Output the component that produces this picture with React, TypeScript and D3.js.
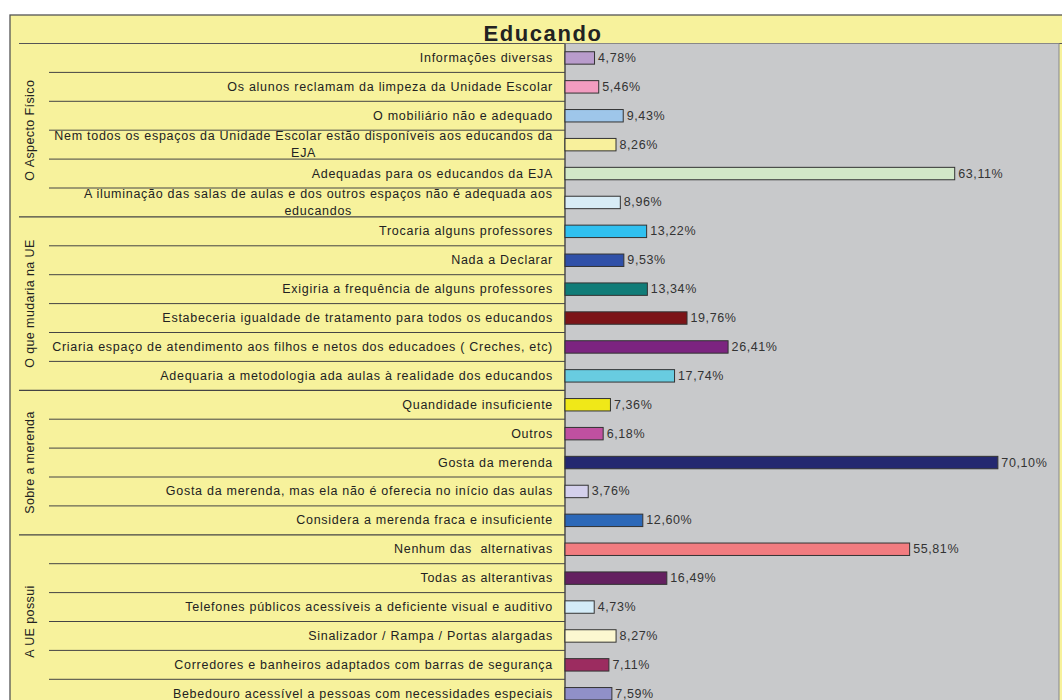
import React from "react";
import * as d3 from "d3";

const categories: string[] = [
  "Informações diversas",
  "Os alunos reclamam da limpeza da Unidade Escolar",
  "O mobiliário não e adequado",
  "Nem todos os espaços da Unidade Escolar estão disponíveis aos educandos da\nEJA",
  "Adequadas para os educandos da EJA",
  "A iluminação das salas de aulas e dos outros espaços não é adequada aos\neducandos",
  "Trocaria alguns professores",
  "Nada a Declarar",
  "Exigiria a frequência de alguns professores",
  "Estabeceria igualdade de tratamento para todos os educandos",
  "Criaria espaço de atendimento aos filhos e netos dos educadoes ( Creches, etc)",
  "Adequaria a metodologia ada aulas à realidade dos educandos",
  "Quandidade insuficiente",
  "Outros",
  "Gosta da merenda",
  "Gosta da merenda, mas ela não é oferecia no início das aulas",
  "Considera a merenda fraca e insuficiente",
  "Nenhum das  alternativas",
  "Todas as alterantivas",
  "Telefones públicos acessíveis a deficiente visual e auditivo",
  "Sinalizador / Rampa / Portas alargadas",
  "Corredores e banheiros adaptados com barras de segurança",
  "Bebedouro acessível a pessoas com necessidades especiais",
];

const values: number[] = [
  4.78, 5.46, 9.43, 8.26, 63.11, 8.96,
  13.22, 9.53, 13.34, 19.76, 26.41, 17.74,
  7.36, 6.18, 70.1, 3.76, 12.6,
  55.81, 16.49, 4.73, 8.27, 7.11, 7.59,
];

const barColors: string[] = [
  "#b99ccc", "#f29cc0", "#9ec6ea", "#f8f09c", "#d2e8c8", "#d8ecf6",
  "#30c0f0", "#3050a8", "#107c78", "#7c1418", "#7c2480", "#68cce0",
  "#f0e818", "#c050a0", "#242870", "#d4d0ec", "#2c68b8",
  "#f27c80", "#642060", "#d4ecf8", "#fcf8d0", "#9c2c60", "#9090c8",
];

const groupNames: string[] = ["O Aspecto Físico", "O que mudaria na UE", "Sobre a merenda", "A UE possui"];
const groupSizes: number[] = [6, 6, 5, 6];

const xTicks: number[] = [0, 80];

const FONT = "'Liberation Sans', Arial, sans-serif";
const FS = 12.5;
const LS = 0.72;

function measure(text: string): number {
  const c = document.createElement("canvas");
  const ctx = c.getContext("2d") as any;
  ctx.font = `${FS}px 'Liberation Sans'`;
  const base = ctx.measureText(text).width;
  return base + LS * text.length;
}

export default function App() {
  const W = 1062, H = 700;
  const top = 43.5;
  const rowH = 28.9;
  const plotLeft = 565, plotRight = 1059;
  const labelRight = 553;

  const x = d3.scaleLinear().domain([xTicks[0], xTicks[1]]).range([plotLeft, plotRight]);
  const y = d3.scaleBand<number>()
    .domain(d3.range(categories.length))
    .range([top, top + rowH * categories.length])
    .paddingInner(0.57).paddingOuter(0.285);
  const rowY = (i: number) => top + i * rowH;

  const starts: number[] = [];
  let acc = 0;
  groupSizes.forEach((s) => { starts.push(acc); acc += s; });

  const fmt = (v: number) => v.toFixed(2).replace(".", ",") + "%";
  const pre = { whiteSpace: "pre" as const };

  return (
    <div style={{ position: "absolute", left: 0, top: 0 }}>
      <svg width={W} height={H} style={{ display: "block", fontFamily: FONT }}>
        <rect x={0} y={0} width={W} height={H} fill="#ffffff" />
        <rect x={10} y={15} width={W + 20} height={H + 20} fill="#f7f29c" stroke="#555" strokeWidth={1.3} />
        <text x={543} y={40.5} textAnchor="middle" fontSize={22} fontWeight="bold" letterSpacing={1.6} fill="#222">
          Educando
        </text>
        <line x1={19} x2={W} y1={top} y2={top} stroke="#555" strokeWidth={1.2} />
        <rect x={plotLeft} y={top} width={plotRight - plotLeft} height={H} fill="#c8c9cb" stroke="#888" strokeWidth={1} />
        <line x1={plotLeft} x2={plotLeft} y1={top} y2={H} stroke="#444" strokeWidth={1.2} />

        {categories.map((_, i) => {
          if (i === 0) return null;
          const isGroup = starts.includes(i);
          return (
            <line key={"l" + i} x1={isGroup ? 19 : 49} x2={plotLeft} y1={rowY(i)} y2={rowY(i)}
              stroke="#444" strokeWidth={isGroup ? 1.2 : 1} />
          );
        })}

        {groupNames.map((g, gi) => {
          const cy = rowY(starts[gi]) + (groupSizes[gi] * rowH) / 2;
          return (
            <text key={g} transform={`translate(30,${cy}) rotate(-90)`} textAnchor="middle" dominantBaseline="central"
              fontSize={FS} letterSpacing={0.4} fill="#222">{g}</text>
          );
        })}

        {categories.map((c, i) => {
          const lines = c.split("\n");
          const cy = rowY(i) + rowH / 2;
          if (lines.length === 1) {
            return (
              <text key={"c" + i} x={labelRight} y={cy} textAnchor="end" dominantBaseline="central"
                fontSize={FS} letterSpacing={LS} fill="#222" style={pre}>{c}</text>
            );
          }
          const wMax = Math.max(...lines.map(measure));
          const cx = labelRight - wMax / 2;
          return (
            <g key={"c" + i}>
              {lines.map((ln, k) => (
                <text key={k} x={cx} y={cy + (k - (lines.length - 1) / 2) * 16.5} textAnchor="middle"
                  dominantBaseline="central" fontSize={FS} letterSpacing={LS} fill="#222" style={pre}>{ln}</text>
              ))}
            </g>
          );
        })}

        {values.map((v, i) => (
          <g key={"b" + i}>
            <rect x={x(0)} y={y(i)} width={x(v) - x(0)} height={y.bandwidth()} fill={barColors[i]}
              stroke="#333" strokeWidth={1} />
            <text x={x(v) + 3.5} y={(y(i) as number) + y.bandwidth() / 2} dominantBaseline="central"
              fontSize={FS} letterSpacing={0.6} fill="#333">{fmt(v)}</text>
          </g>
        ))}
      </svg>
    </div>
  );
}
